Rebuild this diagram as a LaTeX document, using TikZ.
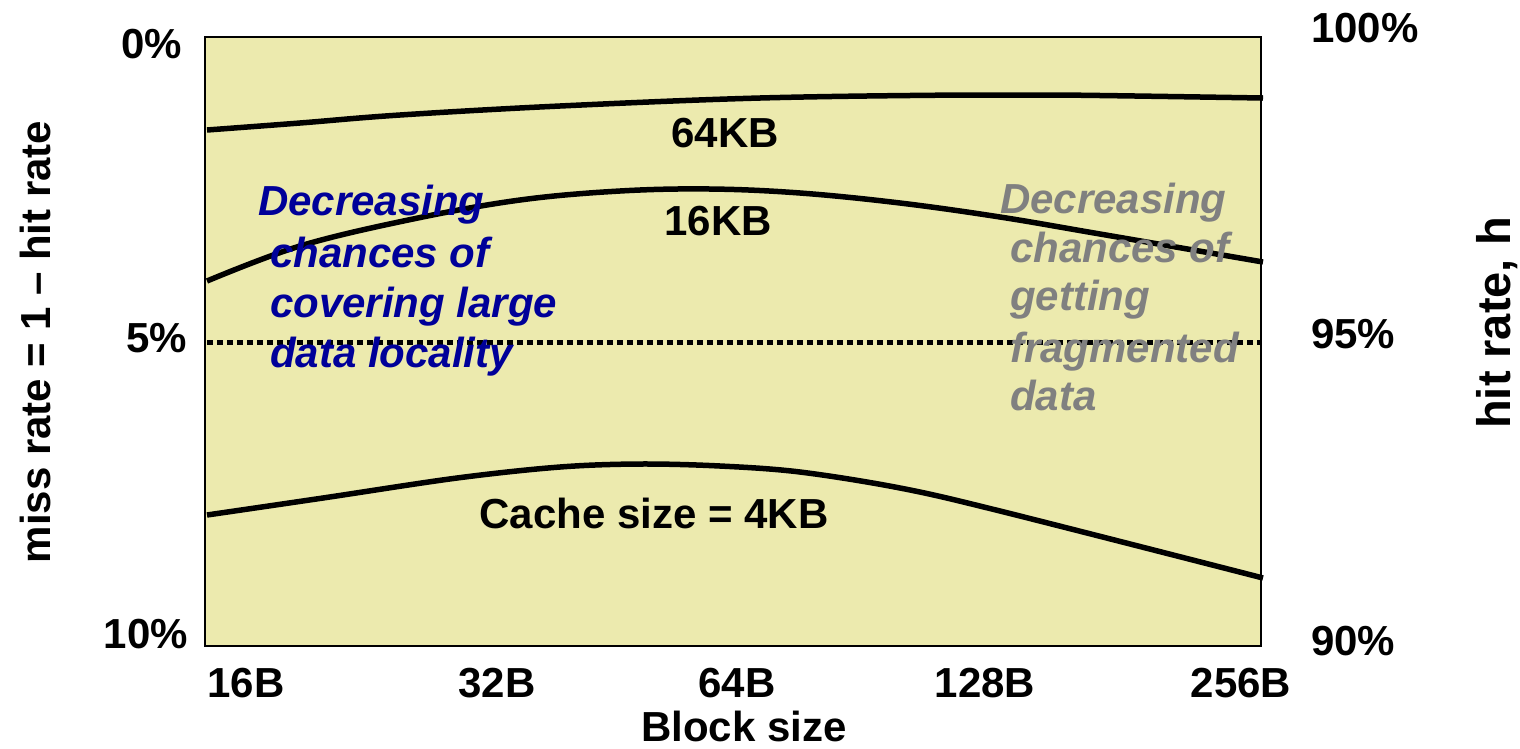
\documentclass[tikz,border=0pt]{standalone}
\usepackage{fontspec}
\setmainfont{Liberation Sans}
\definecolor{plotbg}{RGB}{236,234,174}
\definecolor{noteblue}{RGB}{0,0,153}
\definecolor{notegrey}{RGB}{128,128,128}
\tikzset{
  lbl/.style={inner sep=0pt, font=\fontsize{42}{50}\selectfont\bfseries},
  bigrot/.style={inner sep=0pt, rotate=90, anchor=base, font=\fontsize{47}{56}\selectfont\bfseries},
  note/.style={inner sep=0pt, anchor=base west, font=\fontsize{42}{50}\selectfont\bfseries\itshape},
  curve/.style={line width=5.5pt, line cap=butt},
}
\begin{document}
\begin{tikzpicture}[x=1pt,y=-1pt]
\useasboundingbox (0,0) rectangle (1520,748);
% plot area
\draw[line width=2pt, fill=plotbg] (205,37) rectangle (1261,646);
% 5% reference line
\draw[line width=5pt, dash pattern=on 5.5pt off 4.5pt] (207,342) -- (1261,342);
% miss-rate curves
\draw[curve] plot[smooth, tension=0.6] coordinates
  {(207,130) (300,123) (400,115) (560,106) (760,98) (960,95) (1060,95) (1263,98)};
\draw[curve] plot[smooth, tension=0.6] coordinates
  {(207,281) (300,246) (413,219) (520,200) (620,191) (710,189) (800,193) (900,203) (1000,217) (1100,234) (1263,262)};
\draw[curve] plot[smooth, tension=0.55] coordinates
  {(207,515) (323,498) (457,478) (560,467) (640,464) (720,466) (800,472) (900,488) (1000,511) (1263,578)};
% curve labels
\node[lbl, anchor=base] (c64) at (725,147) {64KB};
\node[lbl, anchor=base] (c16) at (718,235) {16KB};
\node[lbl, anchor=base] (c4) at (654,528) {Cache size = 4KB};
% left axis
\node[lbl, anchor=base east] (m0) at (182,58) {0\%};
\node[lbl, anchor=base east] (m5) at (187,352) {5\%};
\node[lbl, anchor=base east] (m10) at (188,648) {10\%};
\node[lbl, rotate=90, anchor=base] (mlab) at (50,342) {miss rate = 1 -- hit rate};
% right axis
\node[lbl, anchor=base west] (h100) at (1311,42) {100\%};
\node[lbl, anchor=base west] (h95) at (1311,348) {95\%};
\node[lbl, anchor=base west] (h90) at (1311,655) {90\%};
\node[bigrot] (hlab) at (1510,323) {hit rate, h};
% bottom axis
\node[lbl, anchor=base] (b16) at (246,697) {16B};
\node[lbl, anchor=base] (b32) at (497,697) {32B};
\node[lbl, anchor=base] (b64) at (737,697) {64B};
\node[lbl, anchor=base] (b128) at (985,697) {128B};
\node[lbl, anchor=base] (b256) at (1241,697) {256B};
\node[lbl, anchor=base] (blab) at (744,741) {Block size};
% annotations
\node[note, text=noteblue] (l1) at (258,215) {Decreasing};
\node[note, text=noteblue] (l2) at (270,267) {chances of};
\node[note, text=noteblue] (l3) at (270,317) {covering large};
\node[note, text=noteblue] (l4) at (270,367) {data locality};
\node[note, text=notegrey] (r1) at (1000,213) {Decreasing};
\node[note, text=notegrey] (r2) at (1010,262) {chances of};
\node[note, text=notegrey] (r3) at (1010,310) {getting};
\node[note, text=notegrey] (r4) at (1010,362) {fragmented};
\node[note, text=notegrey] (r5) at (1010,410) {data};
\end{tikzpicture}
\end{document}
